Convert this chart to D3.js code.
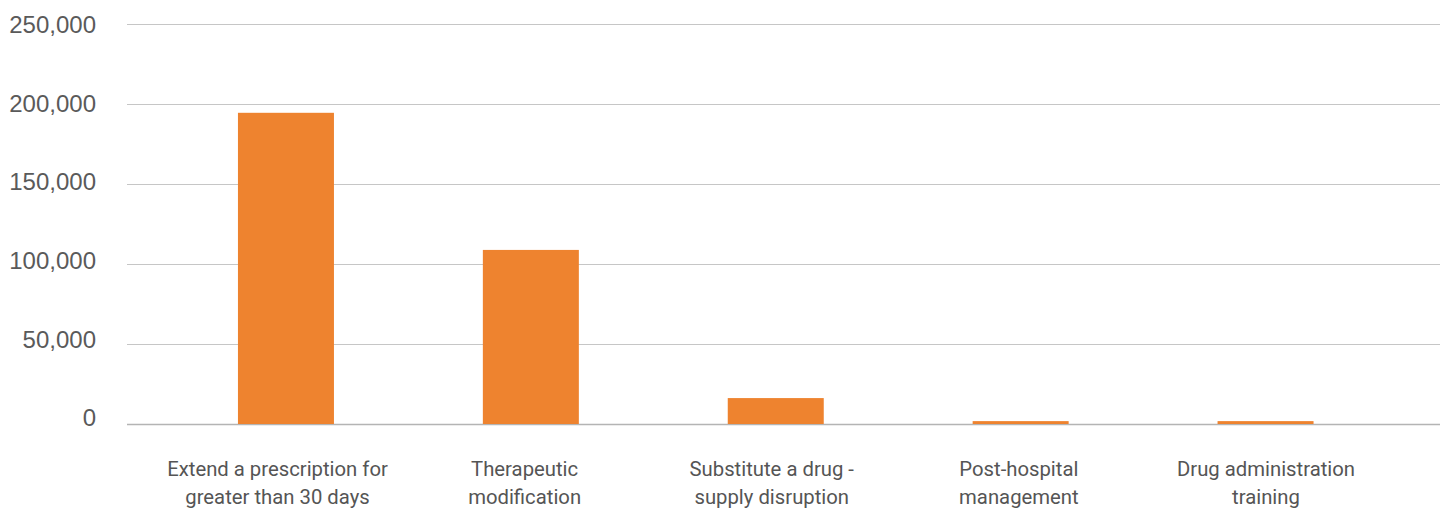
<!DOCTYPE html>
<html>
<head>
<meta charset="utf-8">
<script src="https://cdn.jsdelivr.net/npm/d3@7"></script>
<style>
  body { margin: 0; background: #fff; }
</style>
</head>
<body>
<div id="chart"></div>
<script>
// Data
const categories = [
    ['Extend a prescription for', 'greater than 30 days'],
    ['Therapeutic', 'modification'],
    ['Substitute a drug -', 'supply disruption'],
    ['Post-hospital', 'management'],
    ['Drug administration', 'training']
];
const values = [194500, 108800, 16200, 1800, 1800];
const yTicks = [0, 50000, 100000, 150000, 200000, 250000];

const width = 1448, height = 508;

const svg = d3.select('#chart')
    .append('svg')
    .attr('width', width)
    .attr('height', height);

const x = d3.scaleBand()
    .domain(d3.range(categories.length))
    .range([163.5, 1388])
    .paddingInner(0.608)
    .paddingOuter(0.304);

// category labels are spaced a touch wider than the bars
const xLabel = d3.scalePoint()
    .domain(d3.range(categories.length))
    .range([277.5, 1266]);

const y = d3.scaleLinear()
    .domain([0, 250000])
    .range([424, 24]);

// tick labels sit on a slightly tighter spacing than the gridlines
const yLabel = d3.scaleLinear()
    .domain([0, 250000])
    .range([418, 24.5]);

// Gridlines
svg.append('g')
    .selectAll('line')
    .data(yTicks)
    .enter()
    .append('line')
    .attr('x1', 127)
    .attr('x2', 1440)
    .attr('y1', d => Math.round(y(d)) + 0.5)
    .attr('y2', d => Math.round(y(d)) + 0.5)
    .attr('stroke', d => d === 0 ? '#b4b4b4' : '#c6c6c6')
    .attr('stroke-width', d => d === 0 ? 1.5 : 1);

// Y tick labels
svg.append('g')
    .selectAll('text')
    .data(yTicks)
    .enter()
    .append('text')
    .attr('x', 96)
    .attr('y', d => yLabel(d))
    .attr('dy', '0.35em')
    .attr('text-anchor', 'end')
    .attr('font-family', '"Liberation Sans", Arial, sans-serif')
    .attr('font-size', '24px')
    .attr('fill', '#5a5a5a')
    .text(d => d3.format(',')(d));

// Bars
svg.append('g')
    .selectAll('rect')
    .data(values)
    .enter()
    .append('rect')
    .attr('x', (d, i) => x(i))
    .attr('y', d => y(d))
    .attr('width', x.bandwidth())
    .attr('height', d => y(0) - y(d))
    .attr('fill', '#ee832f');

// Category labels (two lines each)
const labels = svg.append('g')
    .selectAll('text')
    .data(categories)
    .enter()
    .append('text')
    .attr('x', (d, i) => xLabel(i))
    .attr('y', 476)
    .attr('text-anchor', 'middle')
    .attr('font-family', 'Roboto, sans-serif')
    .attr('font-size', '20.3px')
    .attr('fill', '#555');

labels.selectAll('tspan')
    .data(d => d)
    .enter()
    .append('tspan')
    .attr('x', function() { return d3.select(this.parentNode).attr('x'); })
    .attr('dy', (d, i) => i === 0 ? 0 : 27.5)
    .text(d => d);
</script>
</body>
</html>
